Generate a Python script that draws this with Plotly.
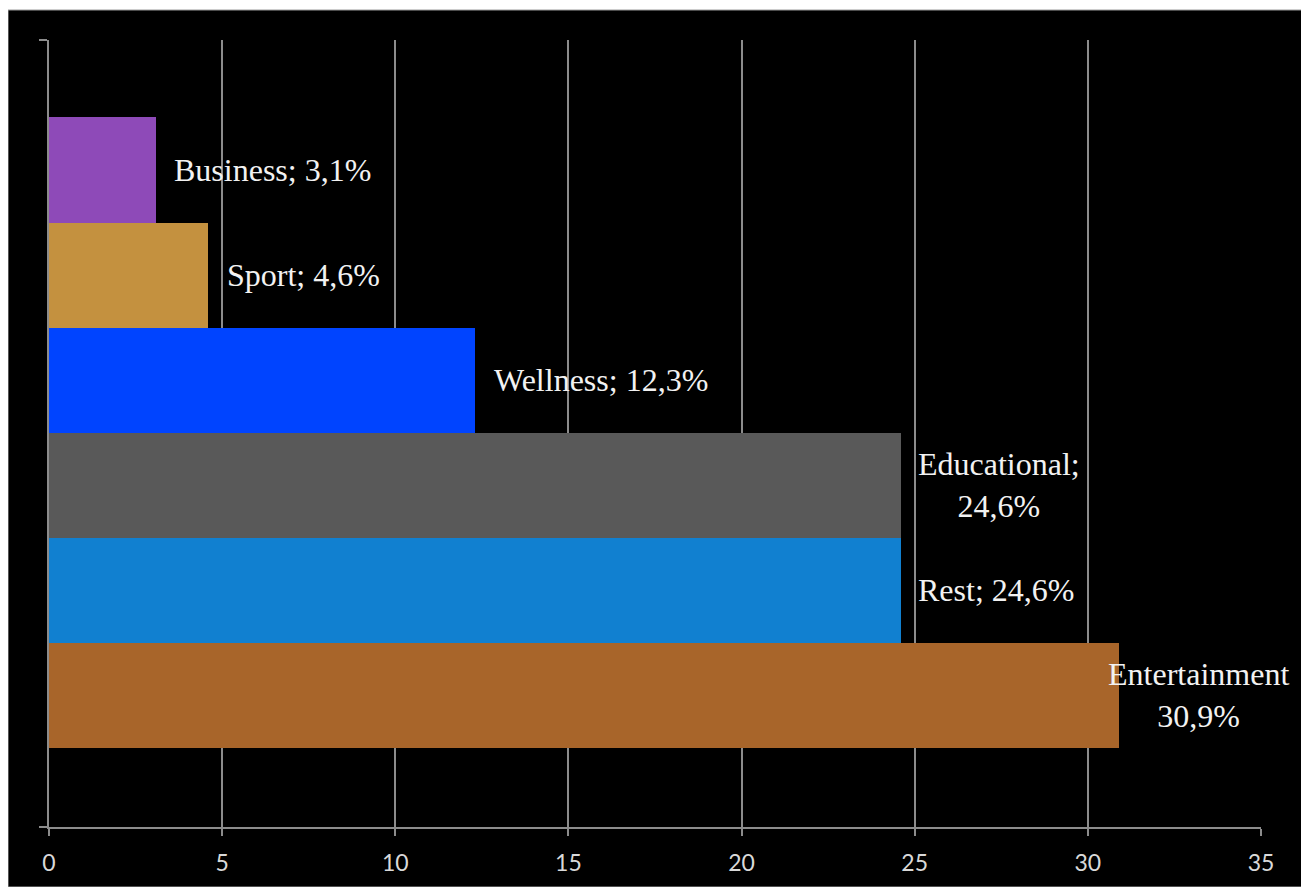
import plotly.graph_objects as go

# ---- data (bottom to top) ----
categories = ["Entertainment", "Rest", "Educational", "Wellness", "Sport", "Business"]
values = [30.9, 24.6, 24.6, 12.3, 4.6, 3.1]
labels = ["Entertainment<br>30,9%", "Rest; 24,6%", "Educational;<br>24,6%",
          "Wellness; 12,3%", "Sport; 4,6%", "Business; 3,1%"]
x_ticks = [0, 5, 10, 15, 20, 25, 30, 35]

# ---- style ----
colors = ["#A8652A", "#1180D0", "#595959", "#0044FF", "#C4913F", "#8E4AB8"]
label_anchor = ["center", "left", "left", "left", "left", "left"]
label_shift = [79, 15, 15, 17, 17, 16]

positions = list(range(len(categories)))
y_lo, y_hi = -1.257, 6.238
axis_col = "#8C8C8C"

fig = go.Figure()
fig.add_trace(go.Bar(
    y=positions, x=values, orientation="h", width=1,
    marker=dict(color=colors, line=dict(width=0)),
    hoverinfo="x+text", hovertext=categories, showlegend=False,
))

for p, v, t, a, s in zip(positions, values, labels, label_anchor, label_shift):
    fig.add_annotation(
        x=v, y=p, text=t, showarrow=False, xanchor=a, xshift=s, align="center",
        font=dict(family="Liberation Serif", size=32, color="#F2F2F2"),
    )

# black chart area with thin gray frame
fig.add_shape(type="rect", xref="paper", yref="paper",
              x0=-0.0338, x1=1.0355, y0=-0.0762, y1=1.0381,
              fillcolor="black", line=dict(color="#9A9A9A", width=1), layer="below")

fig.update_layout(
    width=1309, height=887,
    margin=dict(l=41, r=56, t=32, b=68),
    paper_bgcolor="white", plot_bgcolor="black",
    bargap=0,
    xaxis=dict(range=[0, 35], tickvals=x_ticks, showgrid=True, gridcolor=axis_col, gridwidth=1.5,
               showline=True, linecolor=axis_col, linewidth=1.5, zeroline=False,
               ticks="outside", ticklen=7, tickcolor=axis_col, tickwidth=1.5,
               tickfont=dict(family="Lato", size=23, color="#D9D9D9"), ticklabelstandoff=8),
    yaxis=dict(range=[y_lo, y_hi], showgrid=False, zeroline=False,
               showline=True, linecolor=axis_col, linewidth=1.5,
               tickvals=[y_lo, y_hi], ticks="outside", ticklen=8, tickcolor=axis_col, tickwidth=1.5,
               showticklabels=False),
)

fig.write_html("out.html")
